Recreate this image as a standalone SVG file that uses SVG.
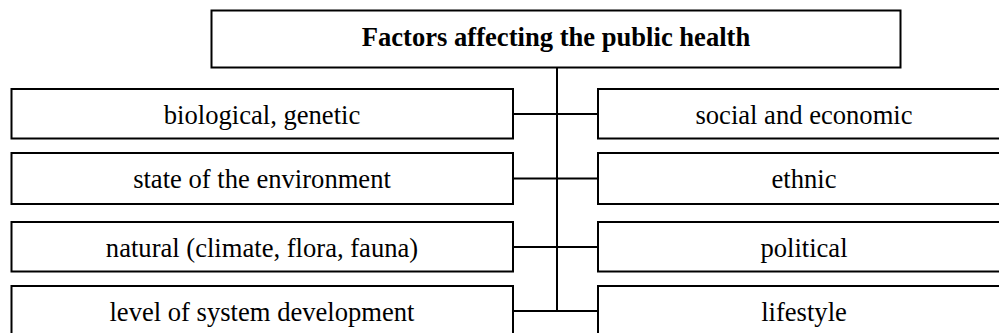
<svg xmlns="http://www.w3.org/2000/svg" width="999" height="333" viewBox="0 0 999 333">
<style>
.box{fill:#fff;stroke:#000;stroke-width:2}
.t{font-family:'Liberation Serif','Times New Roman','DejaVu Serif',serif;font-size:26.6px;fill:#000;text-anchor:middle}
.title{font-weight:bold}
.c{stroke:#000;stroke-width:2;fill:none}
</style>
<rect width="999" height="333" fill="#fff"/>
<g id="connectors">
<line class="c" x1="557" y1="68" x2="557" y2="311"/>
<line class="c" x1="513" y1="114" x2="598" y2="114"/>
<line class="c" x1="513" y1="178.5" x2="598" y2="178.5"/>
<line class="c" x1="513" y1="247" x2="598" y2="247"/>
<line class="c" x1="513" y1="311" x2="598" y2="311"/>
</g>
<g id="title"><rect class="box" x="211.5" y="10.5" width="689" height="57"/><text class="t title" x="556" y="46">Factors affecting the public health</text></g>
<g id="biological"><rect class="box" x="11.5" y="89" width="501.5" height="49.5"/><text class="t" x="262" y="123.5">biological, genetic</text></g>
<g id="environment"><rect class="box" x="11.5" y="153" width="501.5" height="51"/><text class="t" x="262" y="188">state of the environment</text></g>
<g id="natural"><rect class="box" x="11.5" y="222" width="501.5" height="49.5"/><text class="t" x="262" y="256.5">natural (climate, flora, fauna)</text></g>
<g id="system"><rect class="box" x="11.5" y="286" width="501.5" height="50"/><text class="t" x="262" y="320.5">level of system development</text></g>
<g id="social"><rect class="box" x="598" y="89" width="420" height="49.5"/><text class="t" x="804" y="123.5">social and economic</text></g>
<g id="ethnic"><rect class="box" x="598" y="153" width="420" height="51"/><text class="t" x="804" y="188">ethnic</text></g>
<g id="political"><rect class="box" x="598" y="222" width="420" height="49.5"/><text class="t" x="804" y="256.5">political</text></g>
<g id="lifestyle"><rect class="box" x="598" y="286" width="420" height="50"/><text class="t" x="804" y="320.5">lifestyle</text></g>
</svg>
